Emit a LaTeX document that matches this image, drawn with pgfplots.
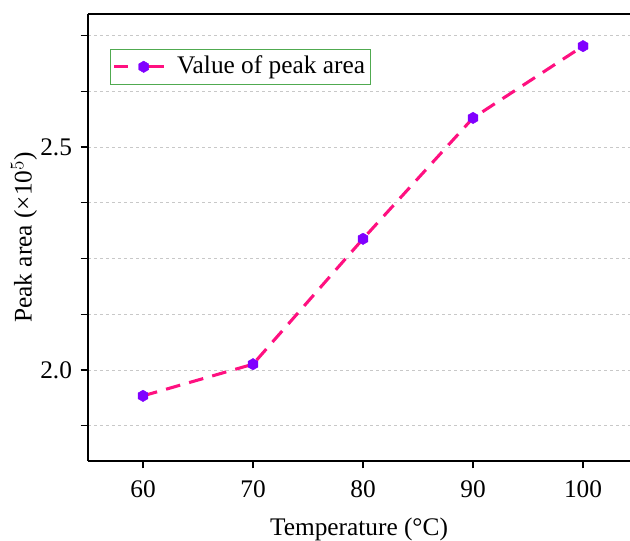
\documentclass[border=0pt]{standalone}
\usepackage{fontspec}
\setmainfont{Liberation Serif}
\usepackage{pgfplots}
\pgfplotsset{compat=1.18}
\definecolor{linepink}{RGB}{255,16,128}
\definecolor{mkpurple}{RGB}{128,0,255}
\definecolor{leggreen}{RGB}{80,170,80}
\definecolor{gridgray}{RGB}{200,200,200}
\pgfdeclareplotmark{hexa*}{%
  \pgfpathmoveto{\pgfqpointpolar{90}{\pgfplotmarksize}}%
  \pgfpathlineto{\pgfqpointpolar{150}{\pgfplotmarksize}}%
  \pgfpathlineto{\pgfqpointpolar{210}{\pgfplotmarksize}}%
  \pgfpathlineto{\pgfqpointpolar{270}{\pgfplotmarksize}}%
  \pgfpathlineto{\pgfqpointpolar{330}{\pgfplotmarksize}}%
  \pgfpathlineto{\pgfqpointpolar{30}{\pgfplotmarksize}}%
  \pgfpathclose
  \pgfusepathqfillstroke}
\begin{document}
\fontsize{19}{22}\selectfont
\begin{tikzpicture}
\begin{axis}[
  scale only axis,
  width=406.5pt, height=335.25pt,
  xmin=55, xmax=104.27,
  ymin=1.796, ymax=2.798,
  axis x line=box, axis y line=left,
  axis line style={-, line width=1.4pt, black},
  xtick={60,70,80,90,100},
  xticklabels={60,70,80,90,100},
  ytick={1.875,2.0,2.125,2.25,2.375,2.5,2.625,2.75},
  yticklabels={,2.0,,,,2.5,,},
  xtick pos=bottom, ytick pos=left,
  tick align=outside,
  major tick length=5.5pt,
  tick style={line width=1pt, black},
  ymajorgrids,
  grid style={dashed, gridgray, line width=0.6pt, dash pattern=on 2.5pt off 2pt},
  ticklabel style={font=\fontsize{19}{22}\selectfont},
  xticklabel style={yshift=-3pt},
  label style={font=\fontsize{19}{22}\selectfont},
  xlabel={Temperature (°C)},
  ylabel={Peak area (×10$^{5}$)},
  xlabel style={yshift=-2pt},
  ylabel style={yshift=-10.5pt},
  legend style={at={(0.04,0.922)}, anchor=north west, draw=leggreen, line width=0.7pt,
    font=\fontsize{19}{22}\selectfont, inner sep=2pt, inner ysep=3pt, row sep=0pt},
  legend cell align=left,
  legend image code/.code={%
    \draw[#1, line width=2.3pt, dash pattern=on 10pt off 9pt] (0pt,0pt) -- (22pt,0pt);
    \draw[#1, solid, line width=2.3pt] (22pt,0pt) -- (37pt,0pt);
    \draw[#1, solid, mark repeat=1] plot coordinates {(22pt,0pt)};
  },
  /pgf/number format/assume math mode=true,
]
\addplot[color=linepink, line width=2.3pt, dash pattern=on 11pt off 7pt,
  mark=hexa*, mark size=4.3pt, mark options={solid, fill=mkpurple, draw=mkpurple, line width=0.3pt}]
  coordinates {(60,1.942) (70,2.013) (80,2.294) (90,2.565) (100,2.726)};
\addlegendentry{\hspace*{7pt}Value of peak area}
\end{axis}
\pgfresetboundingbox
\path[use as bounding box] (current axis.south west) ++(-66pt,-60pt) rectangle ([yshift=10.5pt]current axis.north east);
\end{tikzpicture}
\end{document}
